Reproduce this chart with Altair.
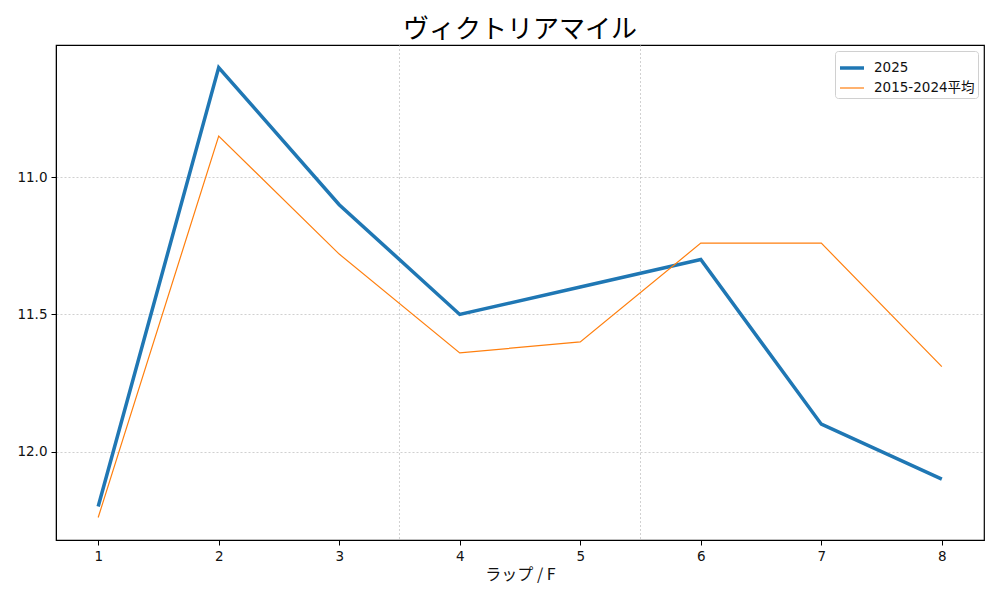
import altair as alt
import pandas as pd

laps = [1, 2, 3, 4, 5, 6, 7, 8]
s2025 = [12.2, 10.6, 11.1, 11.5, 11.4, 11.3, 11.9, 12.1]
savg = [12.24, 10.85, 11.28, 11.64, 11.6, 11.24, 11.24, 11.69]
series_names = ["2025", "2015-2024平均"]
vlines = [3.5, 5.5]
yticks = [11.0, 11.5, 12.0]

rows = []
for name, vals in zip(series_names, [s2025, savg]):
    for l, v in zip(laps, vals):
        rows.append({"lap": l, "time": v, "series": name})
df = pd.DataFrame(rows)
vdf = pd.DataFrame({"x": vlines})

FONT = "DejaVu Sans, Noto Sans CJK JP"
JFONT = "Noto Sans CJK JP"
xscale = alt.Scale(domain=[0.65, 8.35], nice=False, zero=False)
yscale = alt.Scale(domain=[10.518, 12.322], nice=False, zero=False, reverse=True)

rules = alt.Chart(vdf).mark_rule(color="#b0b0b0", strokeWidth=0.6, strokeDash=[2, 2]).encode(
    x=alt.X("x:Q", scale=xscale)
)

leg = dict(title=None, orient="top-right", symbolType="stroke",
           symbolSize=576, labelFontSize=13.5, labelFont=FONT,
           strokeColor="#d0d0d0", fillColor="white", padding=3,
           cornerRadius=3, offset=6, rowPadding=-6, labelColor="#111",
           labelOffset=8)

lines = alt.Chart(df).mark_line().encode(
    x=alt.X("lap:Q", scale=xscale, title="ラップ / F",
            axis=alt.Axis(values=laps, format="d", grid=False)),
    y=alt.Y("time:Q", scale=yscale, title=None,
            axis=alt.Axis(values=yticks, format=".1f", grid=True,
                          gridColor="#b0b0b0", gridDash=[2, 2], gridWidth=0.6)),
    color=alt.Color("series:N", sort=series_names,
                    scale=alt.Scale(domain=series_names, range=["#1f77b4", "#ff7f0e"]),
                    legend=alt.Legend(**leg)),
    strokeWidth=alt.StrokeWidth("series:N", sort=series_names,
                                scale=alt.Scale(domain=series_names, range=[3.5, 1.2]),
                                legend=alt.Legend(**leg)),
    detail="series:N",
)

chart = alt.layer(rules, lines).properties(
    width=928, height=495,
    title=alt.Title("ヴィクトリアマイル", fontSize=26, font=JFONT, fontWeight="normal", offset=2),
    autosize=alt.AutoSizeParams(type="none"),
    padding={"left": 48, "top": 37, "right": 8, "bottom": 50},
).configure_view(stroke="black", strokeWidth=1.2).configure_axis(
    domainColor="black", tickColor="black", labelColor="#111", labelFont=FONT,
    titleFont=JFONT, labelFontSize=13.5, titleFontSize=16, titleFontWeight="normal",
    tickSize=5, labelPadding=4, titleColor="#111",
).configure_axisX(titlePadding=4)

chart.save("out.html", embed_options={"renderer": "svg", "actions": False})
